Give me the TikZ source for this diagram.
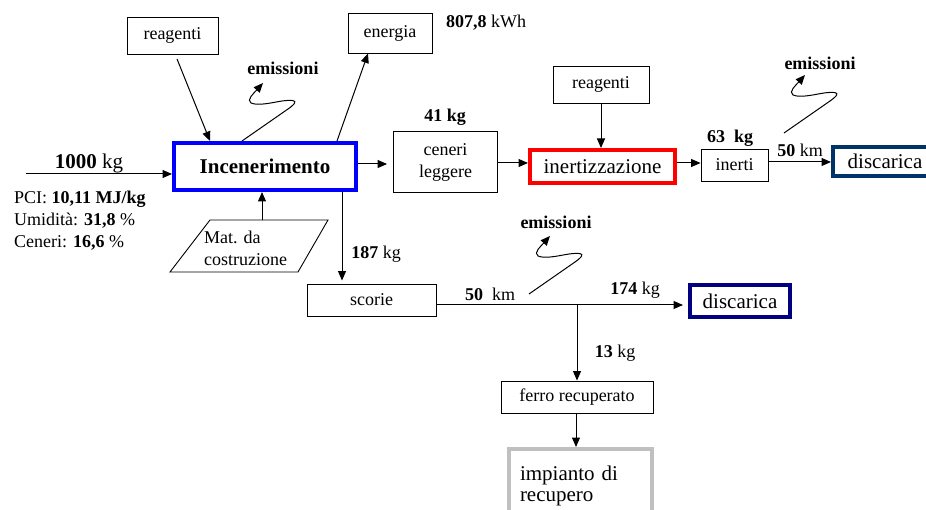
\documentclass[tikz,border=0pt]{standalone}
\usepackage{fontspec}
\setmainfont{LiberationSerif}[Extension=.ttf,UprightFont=*-Regular,BoldFont=*-Bold,ItalicFont=*-Italic,BoldItalicFont=*-BoldItalic]
\usetikzlibrary{arrows.meta}
\newcommand\fsN{\fontsize{18pt}{22pt}\selectfont}
\newcommand\fsB{\fontsize{21pt}{21pt}\selectfont}
\definecolor{incblue}{RGB}{0,0,255}
\definecolor{inzred}{RGB}{255,0,0}
\definecolor{disnavyA}{RGB}{0,51,102}
\definecolor{disnavyB}{RGB}{0,0,128}
\definecolor{impgray}{RGB}{192,192,192}
\tikzset{
  arr/.style={line width=1pt,-{Triangle[length=9.5pt,width=8pt]}},
  plainbox/.style={draw,line width=0.9pt,inner sep=0pt,font=\fsN,align=center},
  heavybox/.style={draw,line width=4pt,inner sep=0pt,font=\fsB,align=center},
  lbl/.style={inner sep=0pt,font=\fsN},
  squig/.pic={
    \draw[line width=1pt,-{Triangle[length=9.5pt,width=8pt]}]
      (0,0) -- (46,-32) .. controls (56,-39) and (56,-42) .. (40,-40)
      .. controls (28,-38) and (16,-35) .. (9,-38)
      .. controls (4,-41) and (12,-48) .. (21,-58);
  }
}
\begin{document}
\begin{tikzpicture}[x=1pt,y=-1pt]
\useasboundingbox (0,0) rectangle (926,510);
\clip (0,0) rectangle (926,510);

% process boxes
\node[plainbox,minimum width=91pt,minimum height=37pt] (reag1) at (172.5,35.5) {reagenti};
\node[plainbox,minimum width=84pt,minimum height=40pt] (ener) at (390,33) {energia};
\node[heavybox,draw=incblue,minimum width=182pt,minimum height=47pt,font=\fsB\bfseries] (inc) at (265,166.5) {Incenerimento};
\node[plainbox,minimum width=104pt,minimum height=61pt] (cen) at (445.5,162) {ceneri\\leggere};
\node[heavybox,draw=inzred,minimum width=145pt,minimum height=33pt] (inz) at (602.5,166.5) {inertizzazione};
\node[plainbox,minimum width=96pt,minimum height=37pt] (reag2) at (601,84.5) {reagenti};
\node[plainbox,minimum width=67pt,minimum height=32pt] (ine) at (734.5,165) {inerti};
\node[heavybox,draw=disnavyA,minimum width=104pt,minimum height=29pt] (dis1) at (885,161.5) {discarica};
\node[plainbox,minimum width=129pt,minimum height=32pt] (sco) at (371.5,300) {scorie};
\node[heavybox,draw=disnavyB,minimum width=100pt,minimum height=32pt] (dis2) at (740,301) {discarica};
\node[plainbox,minimum width=152pt,minimum height=32pt] (fer) at (577,397) {ferro recuperato};
\node[heavybox,draw=impgray,minimum width=143pt,minimum height=74pt,text width=121pt,align=left] (imp) at (580.5,486) {impianto di\\recupero};

% building material input (parallelogram)
\draw[line width=0.9pt] (170,272) -- (210,220) -- (328,220) -- (298,272) -- cycle;
\node[lbl,anchor=west,align=left] (mat) at (204,248) {Mat. da\\costruzione};
\coordinate (matTop) at (262,220);

% feed and its properties
\coordinate (feed) at (26,174);
\draw[arr] (feed) -- (feed -| inc.west);
\node[inner sep=0pt,font=\fsB] (feedlbl) at (89,163) {\textbf{1000} kg};
\node[lbl,anchor=west,align=left] (props) at (14,221)
  {PCI: \textbf{10,11 MJ/kg}\\Umidità: \textbf{31,8} \%\\Ceneri: \textbf{16,6} \%};

% connectors around the incinerator
\draw[arr] ([xshift=4.5pt,yshift=-4.5pt]reag1.south) -- ([xshift=-55pt]inc.north);
\draw[arr] ([xshift=72pt]inc.north) -- ([xshift=-22pt]ener.south);
\draw[arr] (matTop) -- (matTop |- inc.south);
\draw[arr] ([yshift=2.5pt]inc.east) -- ([xshift=-6pt,yshift=-2pt]cen.west);
\coordinate (i2s) at ([xshift=77pt]inc.south);
\draw[arr,shorten >=3pt] (i2s) -- (i2s |- sco.north);

% fly ash line
\coordinate (c2i) at ([yshift=-1pt]cen.east);
\draw[arr] (c2i) -- (c2i -| inz.west);
\draw[arr] (reag2.south) -- (reag2.south |- inz.north);
\coordinate (i2n) at ([yshift=3.5pt]inz.east);
\draw[arr] (i2n) -- (i2n -| ine.west);
\coordinate (n2d) at ([yshift=3pt]ine.east);
\draw[arr] (n2d) -- (n2d -| dis1.west);

% slag line
\coordinate (sj) at ([yshift=-5pt]sco.east);
\draw[arr,shorten >=5pt] (sj) -- (sj -| dis2.west);
\draw[arr] (sj -| fer.north) -- (fer.north);
\draw[arr] ([xshift=-1pt]fer.south) -- ([xshift=-1pt]fer.south |- imp.north);

% emissions
\coordinate (em1) at ([xshift=-23pt]inc.north);
\pic at (em1) {squig};
\coordinate (em2) at (529,294);
\pic at (em2) {squig};
\coordinate (em3) at (784,133);
\pic at (em3) {squig};
\node[lbl,font=\fsN\bfseries] (em1lbl) at (283,68) {emissioni};
\node[lbl,font=\fsN\bfseries] (em2lbl) at (556,222) {emissioni};
\node[lbl,font=\fsN\bfseries] (em3lbl) at (820,63) {emissioni};

% quantities
\node[lbl] (kwh) at (486,23) {\textbf{807,8} kWh};
\node[lbl] (q41) at (445,117) {\textbf{41 kg}};
\node[lbl] (q63) at (730,138) {\textbf{63\ \ kg}};
\node[lbl] (d50a) at (800,150) {\textbf{50} km};
\node[lbl] (q187) at (376,254) {\textbf{187} kg};
\node[lbl] (d50b) at (490,294) {\textbf{50}\ \ km};
\node[lbl] (q174) at (635,290) {\textbf{174} kg};
\node[lbl] (q13) at (615,353) {\textbf{13} kg};
\end{tikzpicture}
\end{document}
